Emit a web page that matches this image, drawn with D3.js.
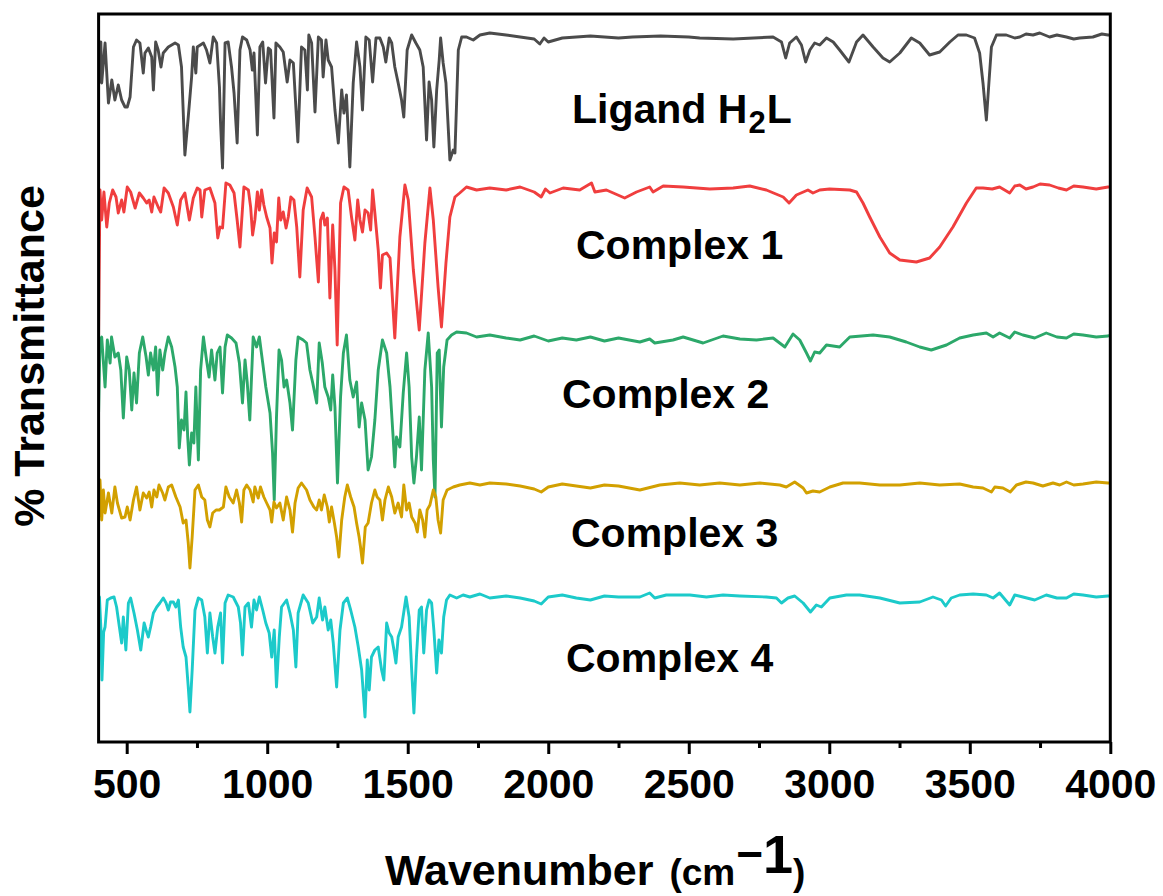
<!DOCTYPE html>
<html><head><meta charset="utf-8">
<script src="https://cdn.jsdelivr.net/npm/d3@7"></script>
<style>
body{margin:0;background:#fff;}
svg{display:block;font-family:"Liberation Sans",Arial,Helvetica,sans-serif;font-weight:bold;}
</style>
</head><body>
<svg id="chart" width="1163" height="896"></svg>
<script>
// ---- data (wavenumber cm-1, offset transmittance in arbitrary units) ----
const xTicksMajor = [500,1000,1500,2000,2500,3000,3500,4000];
const xTicksMinor = [750,1250,1750,2250,2750,3250,3750];
const seriesNames = ["Ligand H2L","Complex 1","Complex 2","Complex 3","Complex 4"];

const ligandH2L = [[400,690],[404,660],[408,700],[411,659],[423,699],[435,639],[447,662],[458,642],[470,657],[482,642],[494,635],[502,635],[512,645],[524,695],[535,702],[547,699],[559,669],[565,689],[577,694],[589,685],[595,652],[603,700],[612,692],[622,675],[630,689],[648,695],[672,699],[684,697],[695,675],[707,587],[719,625],[731,665],[737,695],[746,669],[751,695],[773,699],[784,692],[796,679],[808,705],[820,699],[830,655],[834,619],[841,574],[850,699],[861,700],[873,675],[882,649],[893,599],[903,692],[912,705],[927,702],[939,692],[947,672],[953,689],[965,607],[974,695],[984,700],[994,659],[1004,694],[1012,692],[1024,624],[1031,699],[1045,695],[1057,690],[1071,660],[1081,682],[1093,679],[1109,600],[1122,695],[1134,692],[1143,652],[1148,707],[1158,699],[1170,630],[1182,705],[1193,702],[1199,665],[1209,702],[1217,682],[1229,675],[1241,632],[1253,599],[1265,652],[1273,629],[1282,647],[1294,575],[1306,659],[1318,700],[1330,675],[1339,632],[1351,705],[1363,702],[1375,660],[1387,704],[1401,704],[1413,695],[1422,680],[1434,704],[1443,699],[1454,675],[1466,659],[1478,642],[1486,625],[1498,692],[1514,707],[1529,699],[1543,692],[1555,675],[1567,602],[1576,660],[1585,642],[1593,595],[1603,652],[1612,682],[1617,704],[1626,679],[1636,659],[1650,582],[1662,592],[1668,589],[1680,692],[1692,705],[1709,705],[1733,702],[1757,707],[1792,709],[1850,707],[1900,705],[1950,703],[1970,698],[1985,704],[2000,700],[2050,704],[2150,706],[2250,704],[2300,705],[2400,706],[2500,705],[2539,704],[2658,703],[2800,705],[2830,700],[2845,684],[2859,699],[2883,705],[2901,697],[2916,680],[2931,692],[2948,699],[2966,697],[2990,704],[3014,700],[3037,692],[3070,680],[3097,700],[3120,707],[3156,695],[3191,684],[3215,680],[3251,689],[3292,704],[3322,699],[3357,687],[3393,690],[3429,700],[3458,707],[3488,707],[3517,704],[3535,689],[3547,659],[3559,622],[3568,659],[3577,695],[3595,707],[3630,707],[3660,704],[3678,705],[3700,708],[3725,707],[3749,709],[3784,705],[3810,707],[3844,705],[3870,703],[3891,704],[3938,705],[3970,708],[3992,707],[4000,707]];

const complex1 = [[400,407],[402,470],[405,552],[411,522],[419,550],[429,515],[438,539],[450,552],[462,545],[470,529],[482,542],[490,530],[502,555],[514,550],[530,534],[545,549],[559,544],[571,539],[580,542],[589,530],[597,545],[612,535],[621,530],[633,554],[648,549],[666,535],[680,517],[692,542],[707,549],[723,522],[737,544],[751,554],[761,552],[767,525],[778,552],[796,554],[814,539],[824,504],[832,515],[841,514],[853,559],[867,557],[882,549],[893,522],[903,495],[917,555],[933,552],[941,535],[948,507],[956,522],[965,550],[972,532],[980,552],[988,537],[998,525],[1010,514],[1017,479],[1025,509],[1033,500],[1041,544],[1048,522],[1057,530],[1067,514],[1075,525],[1084,545],[1095,542],[1105,515],[1116,465],[1128,532],[1142,554],[1158,545],[1170,505],[1182,460],[1190,522],[1199,529],[1205,517],[1214,524],[1223,444],[1233,517],[1241,472],[1249,397],[1261,539],[1273,555],[1288,552],[1300,525],[1312,502],[1322,542],[1330,522],[1339,510],[1348,532],[1359,529],[1368,512],[1375,552],[1383,529],[1395,492],[1403,454],[1410,487],[1425,489],[1437,484],[1454,404],[1472,505],[1490,557],[1502,542],[1520,472],[1541,412],[1561,499],[1579,554],[1591,522],[1608,455],[1620,415],[1636,479],[1650,525],[1668,545],[1685,549],[1709,555],[1745,552],[1792,554],[1850,552],[1900,555],[1950,550],[1975,545],[1990,553],[2006,549],[2053,554],[2112,552],[2154,559],[2166,550],[2207,552],[2272,544],[2314,550],[2361,555],[2373,550],[2409,556],[2480,555],[2575,553],[2658,554],[2717,556],[2776,552],[2836,545],[2857,539],[2883,547],[2924,552],[2942,549],[2966,552],[3001,553],[3073,552],[3097,550],[3120,539],[3144,525],[3180,505],[3215,489],[3251,482],[3310,480],[3357,484],[3393,495],[3440,515],[3488,539],[3523,554],[3547,554],[3580,553],[3606,555],[3642,549],[3660,556],[3678,557],[3700,553],[3725,555],[3750,558],[3784,557],[3815,554],[3844,552],[3870,556],[3903,555],[3950,553],[3992,555],[4000,555]];

const complex2 = [[400,330],[405,400],[411,405],[423,355],[431,402],[441,379],[446,405],[458,385],[470,389],[479,372],[488,324],[500,385],[509,372],[518,332],[526,369],[535,339],[545,389],[557,405],[569,385],[577,367],[585,389],[595,372],[603,395],[610,347],[618,392],[628,372],[636,389],[648,405],[660,395],[672,375],[680,355],[687,294],[695,322],[704,312],[711,350],[717,305],[723,277],[731,309],[739,299],[746,355],[755,282],[763,372],[773,405],[784,382],[793,365],[802,392],[814,362],[822,389],[832,395],[841,349],[850,395],[858,407],[873,404],[889,399],[901,379],[912,339],[921,382],[929,359],[938,322],[950,405],[962,395],[972,405],[984,379],[995,355],[1010,329],[1019,289],[1025,242],[1033,325],[1042,392],[1051,382],[1060,355],[1069,362],[1081,339],[1090,312],[1102,382],[1110,405],[1128,402],[1140,399],[1152,372],[1162,359],[1176,339],[1185,399],[1196,379],[1205,355],[1217,345],[1226,332],[1233,367],[1241,335],[1250,259],[1261,345],[1271,389],[1282,407],[1294,362],[1306,345],[1318,360],[1327,315],[1336,339],[1348,322],[1359,272],[1371,285],[1383,322],[1395,372],[1410,402],[1425,389],[1437,355],[1448,305],[1454,275],[1460,305],[1472,295],[1484,349],[1496,389],[1505,355],[1514,285],[1522,259],[1531,285],[1541,325],[1549,272],[1561,372],[1573,409],[1585,355],[1591,282],[1597,245],[1605,389],[1612,392],[1620,315],[1628,375],[1640,402],[1656,407],[1674,410],[1709,409],[1745,405],[1792,407],[1850,404],[1900,402],[1950,406],[2000,401],[2050,404],[2100,402],[2150,405],[2200,401],[2250,404],[2326,400],[2361,403],[2379,399],[2444,402],[2480,405],[2551,399],[2622,406],[2682,403],[2741,402],[2800,404],[2842,395],[2871,408],[2895,402],[2919,389],[2933,381],[2948,390],[2966,389],[2990,397],[3037,395],[3073,405],[3156,407],[3215,405],[3274,400],[3322,395],[3363,392],[3417,397],[3464,404],[3512,407],[3559,409],[3583,405],[3606,409],[3642,404],[3660,410],[3689,407],[3731,404],[3772,409],[3810,405],[3844,404],[3870,408],[3903,407],[3950,405],[3992,406],[4000,407]];

const complex3 = [[400,225],[405,262],[411,222],[417,252],[423,229],[435,249],[447,229],[458,255],[467,239],[482,224],[494,225],[502,235],[512,222],[524,242],[535,255],[547,232],[559,249],[571,244],[580,250],[589,235],[597,252],[607,245],[615,257],[628,249],[636,242],[648,255],[660,257],[675,245],[690,235],[701,219],[711,222],[719,199],[725,174],[733,205],[743,252],[755,257],[767,245],[778,242],[787,222],[796,215],[806,229],[818,232],[830,232],[844,235],[853,255],[865,245],[879,239],[891,252],[901,239],[909,220],[917,252],[927,257],[939,252],[950,240],[956,255],[968,244],[976,255],[988,245],[998,239],[1010,232],[1016,220],[1024,240],[1033,234],[1045,239],[1057,222],[1069,245],[1081,232],[1090,210],[1099,239],[1110,254],[1122,259],[1140,252],[1152,242],[1166,235],[1176,232],[1185,242],[1193,232],[1203,247],[1214,235],[1221,220],[1229,235],[1239,219],[1247,205],[1255,185],[1265,222],[1276,245],[1285,257],[1297,245],[1309,235],[1318,219],[1327,205],[1332,195],[1339,179],[1349,215],[1359,219],[1371,239],[1383,252],[1391,245],[1401,242],[1410,222],[1419,242],[1431,255],[1443,245],[1454,229],[1466,239],[1478,225],[1486,257],[1496,232],[1505,239],[1514,225],[1526,219],[1534,210],[1543,232],[1553,222],[1561,205],[1569,232],[1579,237],[1591,252],[1600,245],[1608,222],[1617,209],[1626,242],[1640,252],[1662,255],[1685,257],[1721,259],[1757,257],[1792,259],[1850,258],[1900,256],[1950,253],[1975,250],[2000,255],[2050,258],[2100,256],[2150,254],[2200,257],[2250,256],[2326,252],[2397,257],[2468,259],[2539,257],[2610,259],[2682,257],[2753,259],[2824,257],[2847,255],[2877,260],[2907,254],[2919,249],[2942,251],[2966,250],[3002,255],[3049,259],[3108,259],[3180,257],[3251,257],[3322,259],[3393,257],[3464,258],[3512,255],[3547,254],[3577,250],[3589,255],[3618,254],[3644,250],[3666,257],[3700,260],[3725,259],[3760,256],[3796,259],[3820,257],[3844,260],[3870,257],[3903,258],[3950,260],[3992,259],[4000,259]];

const complex4 = [[400,110],[403,145],[408,115],[412,62],[418,110],[423,115],[431,142],[443,144],[455,145],[464,135],[474,115],[482,99],[488,125],[497,92],[506,139],[514,144],[526,129],[538,112],[550,92],[562,119],[569,112],[577,105],[585,115],[595,129],[607,135],[618,139],[630,144],[640,139],[648,132],[656,140],[666,140],[675,135],[684,142],[692,115],[701,95],[711,85],[719,55],[725,30],[733,72],[743,132],[755,144],[767,142],[778,125],[787,89],[796,129],[806,105],[814,89],[824,115],[834,129],[841,79],[850,139],[861,147],[879,145],[897,135],[905,119],[912,87],[921,135],[933,139],[944,115],[953,142],[962,132],[972,145],[984,132],[995,119],[1007,109],[1016,85],[1025,112],[1033,55],[1043,105],[1051,135],[1069,142],[1081,129],[1093,112],[1102,75],[1110,129],[1128,147],[1146,139],[1162,119],[1176,125],[1185,144],[1197,122],[1205,135],[1217,112],[1226,122],[1235,99],[1247,55],[1259,112],[1271,139],[1285,144],[1297,132],[1312,115],[1324,95],[1336,72],[1348,25],[1356,82],[1363,52],[1371,85],[1383,92],[1395,95],[1407,72],[1415,62],[1425,119],[1434,109],[1443,105],[1451,92],[1458,79],[1466,105],[1478,115],[1494,145],[1505,125],[1514,72],[1522,29],[1531,85],[1541,132],[1549,135],[1557,89],[1567,132],[1576,142],[1585,139],[1593,112],[1603,69],[1611,102],[1620,89],[1628,125],[1638,142],[1650,147],[1674,144],[1697,147],[1721,145],[1757,148],[1792,144],[1850,146],[1900,144],[1950,141],[1975,138],[2000,145],[2050,147],[2100,144],[2150,142],[2200,146],[2250,145],[2326,145],[2361,149],[2379,144],[2420,147],[2504,147],[2563,145],[2622,147],[2682,146],[2776,145],[2812,144],[2830,139],[2853,144],[2877,146],[2907,139],[2933,130],[2954,137],[2972,135],[3002,144],[3061,147],[3108,147],[3180,144],[3251,139],[3322,140],[3369,145],[3399,142],[3414,136],[3434,144],[3464,147],[3512,148],[3559,147],[3583,144],[3606,149],[3642,137],[3660,147],[3689,145],[3731,142],[3772,147],[3810,144],[3844,144],[3870,148],[3903,147],[3950,145],[3992,146],[4000,146]];

const seriesData = [ligandH2L, complex1, complex2, complex3, complex4];

// ---- styles / layout ----
const colors = ["#4b4b4b","#f03e3e","#2ca86a","#d2a000","#1ccaca"];
const labelPos = [[572,123],[576,259],[562,408],[571,547],[566,672]];

const svg = d3.select("#chart");
const x = d3.scaleLinear().domain([400,4000]).range([98.6,1110.3]);
const y = d3.scaleLinear().domain([0,730]).range([742,12]);

svg.append("defs").append("clipPath").attr("id","clip")
  .append("rect").attr("x",x(400)).attr("y",14).attr("width",x(4000)-x(400)).attr("height",742-14);

const line = d3.line().x(d=>x(d[0])).y(d=>y(d[1]));
const g = svg.append("g").attr("clip-path","url(#clip)");
seriesData.forEach((s,i)=>{
  g.append("path").datum(s).attr("d",line)
    .attr("fill","none").attr("stroke",colors[i]).attr("stroke-width",2.9)
    .attr("stroke-linejoin","round").attr("stroke-linecap","round");
});

// frame
svg.append("rect").attr("x",x(400)).attr("y",14).attr("width",x(4000)-x(400)).attr("height",742-14)
  .attr("fill","none").attr("stroke","#000").attr("stroke-width",3);

// axes
const axMaj = svg.append("g").attr("transform","translate(0,742)")
  .call(d3.axisBottom(x).tickValues(xTicksMajor).tickSize(12).tickFormat(d3.format("d")));
axMaj.select(".domain").remove();
axMaj.selectAll(".tick line").attr("stroke","#000").attr("stroke-width",3);
axMaj.selectAll(".tick text").attr("y",56).attr("dy",0)
  .attr("font-size",41).attr("font-weight","bold").attr("fill","#000")
  .attr("font-family","'Liberation Sans',Arial,sans-serif");

const axMin = svg.append("g").attr("transform","translate(0,742)")
  .call(d3.axisBottom(x).tickValues(xTicksMinor).tickSize(6).tickFormat(""));
axMin.select(".domain").remove();
axMin.selectAll(".tick line").attr("stroke","#000").attr("stroke-width",3);

// series labels
seriesNames.forEach((n,i)=>{
  const t = svg.append("text").attr("x",labelPos[i][0]).attr("y",labelPos[i][1])
    .attr("font-size",41).attr("fill","#000");
  if(n==="Ligand H2L"){
    t.append("tspan").text("Ligand H");
    t.append("tspan").attr("font-size",31).attr("dx",1).attr("dy",10).text("2");
    t.append("tspan").attr("dx",1).attr("dy",-10).text("L");
  } else {
    t.text(n);
  }
});

// axis titles
const xt = svg.append("text").attr("x",385).attr("y",885).attr("fill","#000");
xt.append("tspan").attr("font-size",43).text("Wavenumber ");
xt.append("tspan").attr("font-size",37).attr("dx",4).text("(cm");
xt.append("tspan").attr("font-size",46).attr("dy",-15).attr("dx",1).text("\u2212");
xt.append("tspan").attr("font-size",54).attr("dy",3).text("1");
xt.append("tspan").attr("font-size",37).attr("dy",12).text(")");

svg.append("text").attr("transform","translate(44,356) rotate(-90)")
  .attr("text-anchor","middle").attr("font-size",43).attr("fill","#000")
  .text("% Transmittance");
</script>
</body></html>
